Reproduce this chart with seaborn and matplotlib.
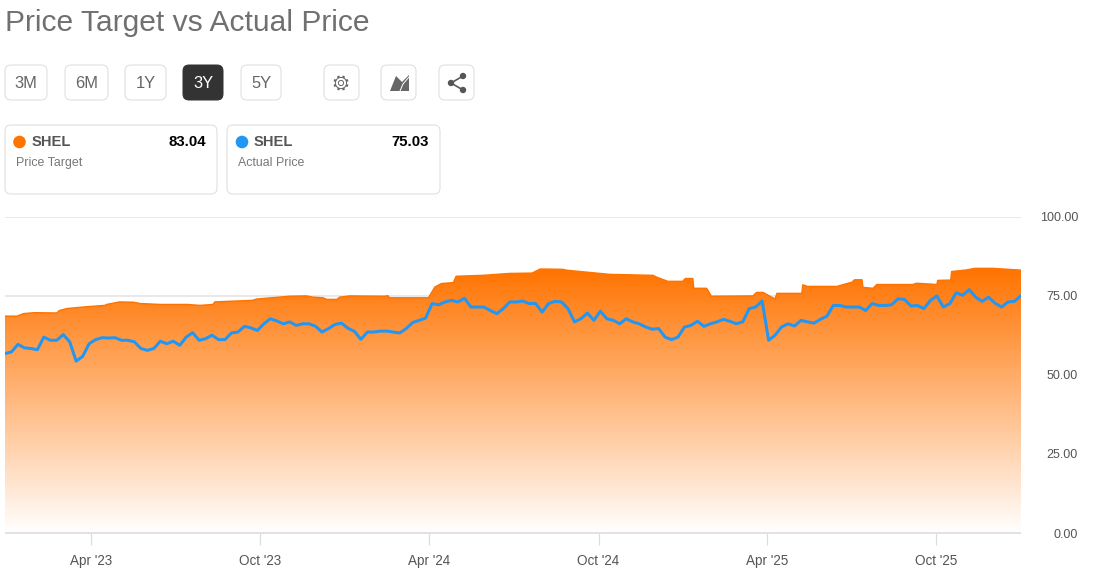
import numpy as np
import pandas as pd
import seaborn as sns
import matplotlib
matplotlib.use('Agg')
import matplotlib.pyplot as plt
import matplotlib.dates as mdates
from matplotlib.patches import FancyBboxPatch, Circle, Polygon

#1 Data
start_date = '2022-12-29'
target_days = [0, 13, 20, 32, 56, 59, 67, 85, 108, 110, 124, 139, 146, 168, 197, 211, 225, 227, 268, 272,
               308, 326, 333, 344, 348, 359, 362, 373, 411, 414, 416, 458, 465, 472, 485, 488, 517, 546, 570, 579,
               603, 608, 633, 654, 701, 705, 717, 733, 736, 744, 745, 759, 764, 809, 813, 820, 833, 835, 862, 863,
               868, 900, 907, 916, 919, 927, 928, 939, 943, 982, 986, 1008, 1009, 1023, 1024, 1040, 1049, 1069, 1099]
target_price = [68.5, 68.5, 69.3, 69.6, 69.5, 70.3, 70.9, 71.4, 71.9, 72.2, 73.0, 72.9, 72.5, 72.2, 72.2, 71.9, 72.2, 73.0, 73.5, 73.9,
                74.8, 74.9, 74.5, 74.3, 73.8, 73.8, 74.5, 74.9, 74.8, 75.0, 74.3, 74.3, 77.7, 78.8, 79.1, 81.1, 81.4, 82.0, 82.1, 83.4,
                83.3, 83.0, 82.3, 81.7, 81.4, 80.8, 79.5, 79.5, 80.4, 80.4, 77.3, 77.3, 74.8, 74.9, 76.0, 76.0, 73.9, 75.7, 75.7, 78.4,
                77.9, 77.9, 78.5, 79.2, 80.0, 80.0, 77.6, 77.3, 78.5, 78.5, 78.9, 78.5, 79.8, 79.9, 82.6, 83.1, 83.6, 83.6, 83.04]
# weekly closes
actual_price = [56.7, 57.2, 59.6, 58.5, 58.3, 57.9, 61.9, 60.9, 60.9, 62.7, 60.4, 54.3, 55.8, 59.8, 61.1, 61.7, 61.6, 61.7, 60.9, 60.9,
                60.4, 58.3, 57.7, 58.3, 60.6, 59.8, 60.6, 59.3, 61.9, 63.3, 60.9, 61.4, 62.5, 61.1, 61.1, 63.2, 63.5, 65.3, 64.8, 64.0,
                66.1, 67.7, 67.0, 66.1, 66.7, 65.6, 66.1, 66.1, 65.3, 63.5, 64.6, 65.9, 66.3, 64.7, 63.7, 61.2, 63.5, 63.5, 63.8, 63.8,
                63.5, 63.2, 64.6, 66.5, 67.2, 67.9, 72.5, 72.1, 73.0, 73.5, 73.0, 74.2, 71.4, 71.4, 71.4, 70.3, 69.3, 70.9, 73.0, 73.0,
                73.3, 72.5, 72.5, 69.8, 72.5, 73.2, 73.0, 70.9, 66.7, 67.7, 69.5, 67.2, 70.1, 67.7, 67.2, 66.1, 67.7, 66.7, 66.1, 65.1,
                64.4, 64.6, 61.9, 61.1, 61.9, 65.1, 65.6, 66.9, 65.3, 66.1, 66.7, 67.5, 66.9, 66.1, 66.7, 70.9, 71.4, 73.3, 60.9, 62.5,
                65.1, 66.1, 65.4, 67.2, 66.7, 66.3, 67.5, 68.5, 71.9, 71.9, 71.4, 71.4, 71.4, 70.3, 72.5, 71.9, 71.9, 72.1, 74.0, 73.8,
                71.7, 71.9, 70.9, 73.5, 74.9, 71.4, 72.5, 75.9, 75.1, 76.9, 74.5, 73.2, 74.5, 72.6, 71.4, 73.0, 73.2, 75.03]
x_ticks = ['2023-04-01', '2023-10-01', '2024-04-01', '2024-10-01', '2025-04-01', '2025-10-01']
x_labels = ["Apr '23", "Oct '23", "Apr '24", "Oct '24", "Apr '25", "Oct '25"]
y_ticks = [0, 25, 50, 75, 100]
range_buttons = ['3M', '6M', '1Y', '3Y', '5Y']

target_df = pd.DataFrame({'date': pd.Timestamp(start_date) + pd.to_timedelta(target_days, unit='D'),
                          'price': target_price})
actual_df = pd.DataFrame({'date': pd.date_range(start_date, periods=len(actual_price), freq='7D'),
                          'price': actual_price})

#2 Figure setup
W, H = 1097, 582
sns.set_style('white')
plt.rcParams['font.family'] = ['Liberation Sans', 'DejaVu Sans']
ORANGE = '#ff7300'
BLUE = '#2196f3'
fig = plt.figure(figsize=(W / 100, H / 100), dpi=100, facecolor='white')
ax = fig.add_axes([5 / W, 1 - 533 / H, 1016 / W, 316.5 / H])


def px(size):
    return size * 72 / 100


#3 Chart
d0 = target_df['date'].iloc[0]
d1 = target_df['date'].iloc[-1]
area = ax.fill_between(target_df['date'], target_df['price'], 0, facecolor='none', edgecolor='none')
# opaque fade to white so the grid stays hidden behind it
mix = np.linspace(1, 0, 256)[:, None, None]
rgb = mix * np.array(matplotlib.colors.to_rgb(ORANGE)) + (1 - mix) * 1.0
rgb = np.repeat(rgb, 2, axis=1)
grad = ax.imshow(rgb, aspect='auto', origin='upper', zorder=2, interpolation='bilinear',
                 extent=[mdates.date2num(d0), mdates.date2num(d1), 0, max(target_price)])
grad.set_clip_path(area.get_paths()[0], transform=ax.transData)

sns.lineplot(data=target_df, x='date', y='price', ax=ax, color=ORANGE, linewidth=px(1.5), zorder=3, estimator=None)
sns.lineplot(data=actual_df, x='date', y='price', ax=ax, color=BLUE, linewidth=px(3), zorder=4, estimator=None)

ax.set_xlim(d0, d1)
ax.set_ylim(0, 100)
ax.set_xlabel('')
ax.set_ylabel('')
ax.set_xticks(pd.to_datetime(x_ticks))
ax.set_xticklabels(x_labels)
ax.set_yticks(y_ticks)
ax.set_yticklabels(['%.2f' % v for v in y_ticks], ha='right')
ax.yaxis.tick_right()
ax.grid(axis='y', color='#e2e2e2', linewidth=px(1.5), zorder=1)
ax.set_axisbelow(True)
ax.tick_params(axis='x', length=px(12), width=px(1.2), color='#dcdcdc', labelsize=px(13.5),
               labelcolor='#555555', pad=px(9), bottom=True)
ax.tick_params(axis='y', length=0, labelsize=px(12.5), labelcolor='#555555', pad=px(57), right=False)
for side in ['top', 'left', 'right']:
    ax.spines[side].set_visible(False)
ax.spines['bottom'].set_color('#e2e2e2')
ax.spines['bottom'].set_linewidth(px(2))
ax.spines['bottom'].set_capstyle('butt')

#4 Page furniture drawn in pixel space
ui = fig.add_axes([0, 0, 1, 1], zorder=5)
ui.set_xlim(0, W)
ui.set_ylim(H, 0)
ui.axis('off')
ui.patch.set_alpha(0)


def box(x0, x1, y0, y1, face='white', edge='#dddddd', r=6):
    ui.add_patch(FancyBboxPatch((x0 + r, y0 + r), x1 - x0 - 2 * r, y1 - y0 - 2 * r,
                                boxstyle='round,pad=%d,rounding_size=%d' % (r, r),
                                facecolor=face, edgecolor=edge, linewidth=px(1)))


ui.text(5, 23, 'Price Target vs Actual Price', fontsize=px(30), color='#707070', va='center', ha='left')

button_edges = [(5, 47), (65, 108), (125, 166), (183, 223), (241, 281)]
for label, (x0, x1) in zip(range_buttons, button_edges):
    active = label == '3Y'
    box(x0, x1, 65, 100, face='#333333' if active else 'white', edge='#333333' if active else '#dddddd')
    ui.text((x0 + x1) / 2, 83, label, fontsize=px(16.5), color='white' if active else '#666666', ha='center', va='center')

for x0, x1 in [(324, 359), (381, 416), (439, 474)]:
    box(x0, x1, 65, 100)

# gear icon
ui.add_patch(Circle((341, 83), 2.6, fill=False, edgecolor='#666666', linewidth=px(1)))
ui.add_patch(Circle((341, 83), 5.6, fill=False, edgecolor='#666666', linewidth=px(1)))
for a in np.arange(np.pi / 8, 2 * np.pi, np.pi / 4):
    ui.plot([341 + 5.6 * np.cos(a), 341 + 7.6 * np.cos(a)], [83 + 5.6 * np.sin(a), 83 + 7.6 * np.sin(a)],
            color='#666666', linewidth=px(2.4), solid_capstyle='butt')
# area chart icon
ui.add_patch(Polygon([(390, 91), (396, 76), (402, 82), (409, 75), (409, 91)], closed=True, color='#666666', lw=0))
ui.plot([400, 403, 409], [91, 84, 77], color='white', linewidth=px(1))
# share icon
ui.plot([463, 451, 463], [76, 83, 90], color='#555555', linewidth=px(1.6))
for cx, cy in [(463, 76), (451, 83), (463, 90)]:
    ui.add_patch(Circle((cx, cy), 3.2, color='#555555', lw=0))

# legend cards
cards = [(5, 217, 19.5, 32, 206, 16, ORANGE, '83.04', 'Price Target'),
         (227, 440, 242, 254, 428.5, 238, BLUE, '75.03', 'Actual Price')]
for x0, x1, dot_x, name_x, val_x, sub_x, color, value, sub in cards:
    box(x0, x1, 125, 194)
    ui.add_patch(Circle((dot_x, 142), 6.3, color=color, lw=0))
    ui.text(name_x, 142, 'SHEL', fontsize=px(14.7), fontweight='bold', color='#555555', va='center')
    ui.text(val_x, 142, value, fontsize=px(15), fontweight='bold', color='black', va='center', ha='right')
    ui.text(sub_x, 163, sub, fontsize=px(12.4), color='#777777', va='center')

fig.savefig('out.png', dpi=100, facecolor='white')
